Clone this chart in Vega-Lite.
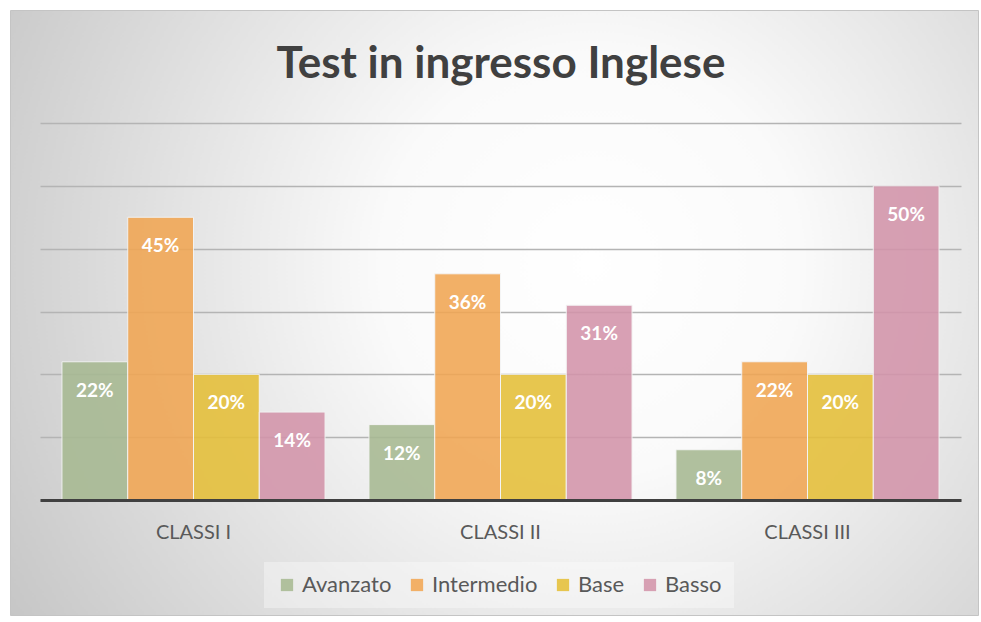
{
  "$schema": "https://vega.github.io/schema/vega-lite/v6.json",
  "width": 968,
  "height": 605,
  "autosize": {"type": "none"},
  "padding": {"left": 10, "top": 10, "right": 3, "bottom": 7},
  "background": "white",
  "title": {
    "text": "Test in ingresso Inglese",
    "orient": "top",
    "anchor": "middle",
    "frame": "group",
    "offset": -112,
    "baseline": "alphabetic",
    "fontSize": 44,
    "font": "Lato",
    "fontWeight": "bold",
    "color": "#404040",
    "dx": 7
  },
  "data": {
    "values": [
      {"classe": "CLASSI I", "livello": "Avanzato", "valore": 0.22},
      {"classe": "CLASSI I", "livello": "Intermedio", "valore": 0.45},
      {"classe": "CLASSI I", "livello": "Base", "valore": 0.20},
      {"classe": "CLASSI I", "livello": "Basso", "valore": 0.14},
      {"classe": "CLASSI II", "livello": "Avanzato", "valore": 0.12},
      {"classe": "CLASSI II", "livello": "Intermedio", "valore": 0.36},
      {"classe": "CLASSI II", "livello": "Base", "valore": 0.20},
      {"classe": "CLASSI II", "livello": "Basso", "valore": 0.31},
      {"classe": "CLASSI III", "livello": "Avanzato", "valore": 0.08},
      {"classe": "CLASSI III", "livello": "Intermedio", "valore": 0.22},
      {"classe": "CLASSI III", "livello": "Base", "valore": 0.20},
      {"classe": "CLASSI III", "livello": "Basso", "valore": 0.50}
    ]
  },
  "encoding": {
    "x": {
      "field": "classe",
      "type": "nominal",
      "sort": ["CLASSI I", "CLASSI II", "CLASSI III"],
      "scale": {"range": [30, 951], "paddingInner": 0.143, "paddingOuter": 0.0715},
      "axis": {
        "title": null,
        "orient": "bottom",
        "offset": -115,
        "domainColor": "#404040",
        "domainWidth": 3,
        "ticks": false,
        "labelPadding": 22,
        "labelFontSize": 20,
        "labelFont": "Lato",
        "labelColor": "#595959",
        "labelAngle": 0,
        "grid": false,
        "zindex": 1
      }
    },
    "xOffset": {
      "field": "livello",
      "type": "nominal",
      "sort": ["Avanzato", "Intermedio", "Base", "Basso"],
      "scale": {"paddingInner": 0, "paddingOuter": 0}
    },
    "y": {
      "field": "valore",
      "type": "quantitative",
      "scale": {"domain": [0, 0.6], "range": [490, 113]},
      "axis": {
        "title": null,
        "values": [0, 0.1, 0.2, 0.3, 0.4, 0.5, 0.6],
        "labels": false,
        "ticks": false,
        "domain": false,
        "grid": true,
        "gridColor": "#b4b4b4",
        "gridWidth": 1.3
      }
    }
  },
  "layer": [
    {
      "mark": {"type": "bar", "opacity": 0.88, "stroke": "#f4f4f4", "strokeWidth": 1},
      "encoding": {
        "color": {
          "field": "livello",
          "type": "nominal",
          "scale": {
            "domain": ["Avanzato", "Intermedio", "Base", "Basso"],
            "range": ["#a7b992", "#f1a653", "#e5bf38", "#d394aa"]
          },
          "legend": {
            "title": null,
            "orient": "none",
            "legendX": 254,
            "legendY": 552,
            "direction": "horizontal",
            "symbolType": "square",
            "symbolSize": 150,
            "symbolStrokeWidth": 0,
            "symbolOpacity": 0.88,
            "labelFontSize": 22,
            "labelFont": "Lato",
            "labelColor": "#595959",
            "columnPadding": 14,
            "labelOffset": 4,
            "padding": 12,
            "fillColor": "rgba(255,255,255,0.35)"
          }
        }
      }
    },
    {
      "mark": {
        "type": "text",
        "dy": 29,
        "baseline": "middle",
        "color": "white",
        "font": "Lato",
        "fontWeight": "bold",
        "fontSize": 19
      },
      "encoding": {
        "text": {"field": "valore", "type": "quantitative", "format": ".0%"}
      }
    }
  ],
  "config": {
    "view": {
      "fill": {
        "gradient": "radial",
        "x1": 0.6, "y1": 0.45, "r1": 0,
        "x2": 0.6, "y2": 0.45, "r2": 0.72,
        "stops": [
          {"offset": 0, "color": "#ffffff"},
          {"offset": 0.3, "color": "#fafafa"},
          {"offset": 1, "color": "#c4c4c4"}
        ]
      },
      "stroke": "#c4c4c4"
    }
  }
}
